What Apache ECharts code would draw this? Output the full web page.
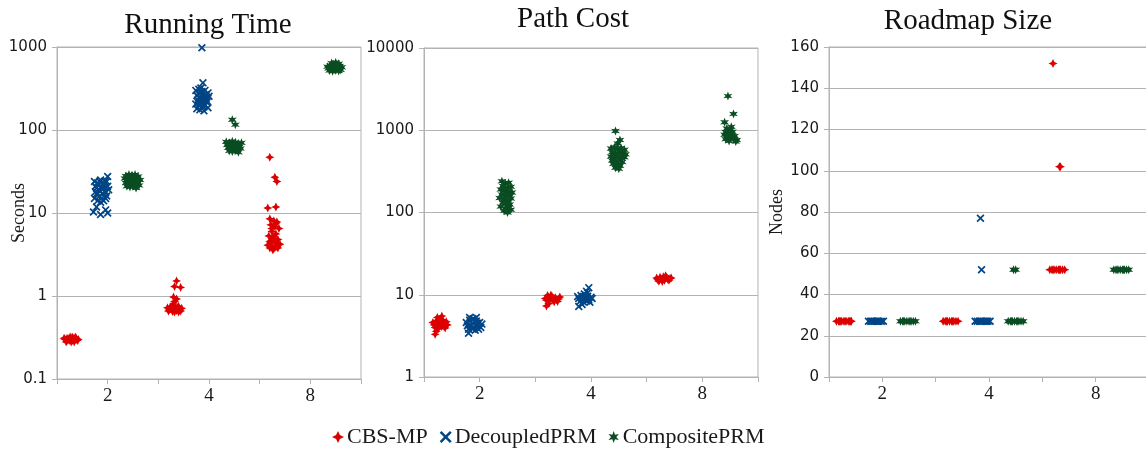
<!DOCTYPE html>
<html>
<head>
<meta charset="utf-8">
<script src="https://cdn.jsdelivr.net/npm/echarts@6/dist/echarts.min.js"></script>
<style>html,body{margin:0;padding:0;background:#fff}#c{width:1146px;height:449px}</style>
</head>
<body>
<div id="c"></div>
<script>
// ---- data ----
const xTickLabels = ['2', '4', '8'];
const seriesNames = ['CBS-MP', 'DecoupledPRM', 'CompositePRM'];
const panelTitles = ['Running Time', 'Path Cost', 'Roadmap Size'];

// Running Time (seconds) : [x position, value]
const timeCBS = [
  [0.58,0.30],[0.60,0.31],[0.62,0.29],[0.64,0.30],[0.66,0.31],[0.68,0.30],[0.70,0.29],[0.59,0.28],
  [0.63,0.32],[0.67,0.28],[0.61,0.30],[0.65,0.29],[0.69,0.31],[0.62,0.31],[0.66,0.30],[0.60,0.29],
  [0.64,0.28],[0.68,0.32],[0.63,0.30],[0.71,0.30],[0.57,0.31],[0.65,0.32],
  [1.59,0.72],[1.61,0.69],[1.63,0.71],[1.65,0.68],[1.67,0.70],[1.69,0.72],[1.71,0.69],[1.73,0.71],
  [1.60,0.66],[1.62,0.74],[1.64,0.65],[1.66,0.73],[1.68,0.67],[1.70,0.75],[1.72,0.66],[1.62,0.70],
  [1.66,0.64],[1.64,0.77],[1.68,0.70],[1.70,0.64],[1.65,0.80],[1.66,0.86],[1.68,0.92],[1.65,0.97],
  [1.66,1.30],[1.72,1.27],[1.68,1.52],
  [2.60,47],[2.65,27],[2.67,24],[2.58,11.5],[2.66,11.8],
  [2.60,8.5],[2.64,8.0],[2.67,7.8],[2.61,7.2],[2.65,6.9],[2.69,6.5],[2.62,6.0],[2.66,5.6],
  [2.59,5.3],[2.63,5.0],[2.68,4.8],[2.61,4.6],[2.65,4.4],[2.70,4.2],[2.58,4.1],[2.62,4.0],
  [2.66,3.9],[2.60,3.8],[2.64,3.7],[2.68,3.8],[2.63,3.6],[2.67,4.3],[2.60,4.5],[2.64,5.2],
  [2.62,6.5],[2.66,7.4]
];
const timeDec = [
  [0.87,24],[0.90,23],[0.93,25],[0.96,22],[0.99,24],[0.88,21],[0.91,19],[0.94,20],
  [0.97,18],[1.00,21],[0.89,17],[0.92,16],[0.95,17],[0.98,15],[0.87,15],[0.90,14],
  [0.93,13.5],[0.96,14],[0.99,16],[0.91,22],[0.95,19],[0.97,24],[1.01,19],[0.88,18],
  [0.92,24],[0.96,20],[0.90,17],[0.94,15],[0.98,18],[0.89,20],
  [1.00,27.5],[0.89,11.8],[0.98,10.9],[0.93,9.6],[0.86,10.3],[1.00,10.0],
  [1.93,980],[1.94,370],
  [1.87,300],[1.90,310],[1.93,290],[1.96,300],[1.99,280],[1.88,260],[1.91,250],[1.94,270],
  [1.97,240],[2.00,255],[1.89,230],[1.92,220],[1.95,235],[1.98,215],[1.87,205],[1.90,200],
  [1.93,190],[1.96,200],[1.99,185],[1.91,175],[1.95,170],[1.88,180],[1.97,265],[1.92,320],
  [1.94,210],[1.90,280],[1.96,250],[1.92,260],[1.98,225],[1.89,215],[1.95,190]
];
const timeComp = [
  [1.18,28],[1.21,29],[1.24,28.5],[1.27,29],[1.30,27.5],[1.17,26],[1.20,25],[1.23,26.5],
  [1.26,25.5],[1.29,26],[1.32,25],[1.18,23],[1.21,22.5],[1.24,23.5],[1.27,22],[1.30,23],
  [1.19,21],[1.22,20.5],[1.25,21],[1.28,20],[1.31,21.5],[1.24,24.5],
  [2.23,133],[2.26,116],
  [2.17,72],[2.20,70],[2.23,73],[2.26,71],[2.29,69],[2.32,70],[2.18,66],[2.21,64],
  [2.24,67],[2.27,65],[2.30,63],[2.19,61],[2.22,60],[2.25,62],[2.28,59],[2.31,60],
  [2.20,56],[2.23,55],[2.26,57],[2.29,54],[2.24,64],[2.27,58],
  [3.17,580],[3.20,600],[3.23,620],[3.26,610],[3.29,590],[3.31,570],[3.18,550],[3.21,560],
  [3.24,540],[3.27,555],[3.30,530],[3.19,520],[3.22,510],[3.25,525],[3.28,515],[3.21,640],
  [3.25,650],[3.28,630],[3.23,570],[3.26,580]
];

// Path Cost
const costCBS = [
  [0.58,4.6],[0.61,4.8],[0.64,5.0],[0.67,4.9],[0.70,4.7],[0.59,4.3],[0.62,4.4],[0.65,4.2],
  [0.68,4.5],[0.71,4.3],[0.60,4.0],[0.63,3.9],[0.66,4.1],[0.69,3.95],[0.62,5.3],[0.66,5.5],
  [0.61,3.6],[0.60,3.3],[0.64,4.6],[0.68,4.1],
  [1.59,9.0],[1.62,9.3],[1.65,9.5],[1.68,9.2],[1.71,8.9],[1.60,8.6],[1.63,8.8],[1.66,8.5],
  [1.69,8.7],[1.72,9.4],[1.61,9.8],[1.64,9.9],[1.67,8.2],[1.62,7.8],[1.60,7.3],[1.70,8.3],
  [1.65,9.0],
  [2.59,16],[2.62,16.3],[2.65,16.5],[2.68,16.2],[2.71,15.8],[2.60,15.2],[2.63,15.5],[2.66,15.0],
  [2.69,15.4],[2.72,16.0],[2.61,14.6],[2.64,14.5],[2.67,17],[2.70,15],[2.65,15.8]
];
const costDec = [
  [0.88,4.6],[0.91,4.9],[0.94,5.1],[0.97,4.8],[1.00,4.6],[1.02,4.4],[0.89,4.2],[0.92,4.3],
  [0.95,4.0],[0.98,4.2],[1.01,4.0],[0.90,3.8],[0.93,3.9],[0.96,3.7],[0.99,3.8],[0.91,5.3],
  [0.97,5.3],[0.90,3.4],[0.94,4.5],[0.98,4.5],
  [1.88,9.5],[1.91,9.8],[1.94,10.2],[1.97,9.6],[2.00,9.3],[1.89,9.0],[1.92,8.8],[1.95,9.1],
  [1.98,8.7],[2.01,9.0],[1.90,8.3],[1.93,8.2],[1.96,8.4],[1.99,8.1],[1.92,7.6],[1.89,7.2],
  [1.96,11.0],[1.98,12.2],[1.94,9.4],[1.97,10.5]
];
const costComp = [
  [1.20,240],[1.23,225],[1.26,230],[1.21,210],[1.25,200],[1.28,205],[1.19,190],[1.22,185],
  [1.26,180],[1.29,175],[1.20,165],[1.24,160],[1.27,158],[1.18,150],[1.22,145],[1.25,140],
  [1.28,148],[1.21,132],[1.24,128],[1.27,125],[1.19,118],[1.23,112],[1.26,115],[1.22,105],
  [1.25,100],[1.28,108],[1.24,170],[1.22,195],
  [2.22,980],[2.26,760],[2.24,690],
  [2.18,600],[2.21,620],[2.24,590],[2.27,610],[2.30,580],[2.19,540],[2.22,520],[2.25,550],
  [2.28,530],[2.31,510],[2.18,480],[2.21,470],[2.24,490],[2.27,460],[2.30,470],[2.19,430],
  [2.22,420],[2.25,440],[2.28,410],[2.20,390],[2.23,380],[2.26,370],[2.22,350],[2.25,340],
  [2.24,500],
  [3.23,2600],[3.28,1580],[3.20,1250],
  [3.22,1050],[3.25,1000],[3.21,950],[3.24,920],[3.27,960],[3.20,880],[3.23,860],[3.26,900],
  [3.29,850],[3.22,820],[3.25,800],[3.28,780],[3.31,760],[3.21,780],[3.24,740],[3.30,730],
  [3.26,1100]
];

// Roadmap Size (nodes)
const sizeCBS = [
  [0.57,27],[0.59,27],[0.61,27],[0.62,27],[0.64,27],[0.66,27],[0.68,27],[0.70,27],[0.71,27],
  [0.60,27],[0.65,27],[0.69,27],
  [1.57,27],[1.59,27],[1.61,27],[1.63,27],[1.65,27],[1.67,27],[1.69,27],[1.71,27],[1.60,27],[1.66,27],
  [2.57,52],[2.59,52],[2.61,52],[2.63,52],[2.65,52],[2.67,52],[2.69,52],[2.71,52],[2.60,52],[2.66,52],
  [2.60,152],[2.66,102],[2.67,102]
];
const sizeDec = [
  [0.87,27],[0.89,27],[0.91,27],[0.93,27],[0.95,27],[0.97,27],[0.99,27],[1.01,27],[0.90,27],[0.96,27],
  [1.87,27],[1.89,27],[1.91,27],[1.93,27],[1.95,27],[1.97,27],[1.99,27],[2.01,27],[1.92,27],[1.98,27],
  [1.92,77],[1.93,52]
];
const sizeComp = [
  [1.17,27],[1.19,27],[1.21,27],[1.23,27],[1.25,27],[1.27,27],[1.29,27],[1.31,27],[1.20,27],[1.26,27],
  [2.18,27],[2.20,27],[2.22,27],[2.24,27],[2.26,27],[2.28,27],[2.30,27],[2.32,27],[2.21,27],[2.27,27],
  [2.23,52],[2.25,52],
  [3.17,52],[3.19,52],[3.21,52],[3.23,52],[3.25,52],[3.27,52],[3.29,52],[3.31,52],[3.20,52],[3.26,52]
];

// ---- styling ----
const colors = ['#dc0000', '#004586', '#0b4d22'];
const symbols = [
  'path://M0,-10 L3.2,-3.2 L10,0 L3.2,3.2 L0,10 L-3.2,3.2 L-10,0 L-3.2,-3.2 Z',
  'path://M-10,-7 L-7,-10 L0,-3 L7,-10 L10,-7 L3,0 L10,7 L7,10 L0,3 L-7,10 L-10,7 L-3,0 Z',
  'path://M0,-10 L2.2,-3.8 L8.66,-5 L4.4,0 L8.66,5 L2.2,3.8 L0,10 L-2.2,3.8 L-8.66,5 L-4.4,0 L-8.66,-5 L-2.2,-3.8 Z'
];
const symbolSizes = [9, 8, 9];
const gridColor = '#b3b3b3';
const serif = 'Liberation Serif';

const chart = echarts.init(document.getElementById('c'), null, {renderer: 'canvas'});

const grids = [
  {left: 57, top: 47, width: 304, height: 332},
  {left: 424, top: 48, width: 334, height: 329},
  {left: 829, top: 47, width: 320, height: 330}
].map(g => Object.assign({show: true, borderColor: gridColor, borderWidth: 1,
  containLabel: false, outerBoundsMode: 'none'}, g));

const xAxes = [0, 1, 2].map(i => ({
  type: 'value', gridIndex: i, min: 0.5, max: 3.5, interval: 0.5,
  splitLine: {show: false},
  axisLine: {show: true, onZero: false, lineStyle: {color: gridColor}},
  axisTick: {show: true, length: 5, lineStyle: {color: gridColor}},
  axisLabel: {
    margin: 8, color: '#1a1a1a', fontFamily: serif, fontSize: 19,
    formatter: v => (Math.abs(v - Math.round(v)) < 1e-6 && v >= 1 && v <= 3) ? xTickLabels[Math.round(v) - 1] : ''
  }
}));

const yCommon = {
  splitLine: {show: true, lineStyle: {color: gridColor}},
  axisLine: {show: true, lineStyle: {color: gridColor}},
  axisTick: {show: true, length: 5, lineStyle: {color: gridColor}},
  nameLocation: 'middle',
  nameMoveOverlap: false,
  nameTextStyle: {fontFamily: serif, fontSize: 18, color: '#1a1a1a'}
};
const yLabel = {margin: 10, color: '#1a1a1a', fontFamily: 'DejaVu Sans', fontSize: 15,
  formatter: v => String(+(+v).toPrecision(6))};

const yAxes = [
  Object.assign({}, yCommon, {type: 'log', logBase: 10, gridIndex: 0, min: 0.1, max: 1000,
    name: 'Seconds', nameGap: 29, axisLabel: yLabel, minorSplitLine: {show: false}}),
  Object.assign({}, yCommon, {type: 'log', logBase: 10, gridIndex: 1, min: 1, max: 10000,
    axisLabel: yLabel}),
  Object.assign({}, yCommon, {type: 'value', gridIndex: 2, min: 0, max: 160, interval: 20,
    name: 'Nodes', nameGap: 43, axisLabel: yLabel})
];

const panels = [[timeCBS, timeDec, timeComp], [costCBS, costDec, costComp], [sizeCBS, sizeDec, sizeComp]];
const series = [];
panels.forEach((p, gi) => {
  p.forEach((data, si) => {
    series.push({
      type: 'scatter', name: seriesNames[si], xAxisIndex: gi, yAxisIndex: gi,
      data: data, symbol: symbols[si], symbolSize: symbolSizes[si],
      itemStyle: {color: colors[si], opacity: 1},
      emphasis: {disabled: true}
    });
  });
});

const titleCenters = [208, 573, 968];
const titleTops = [11, 5, 7];
const titles = panelTitles.map((t, i) => ({
  text: t, left: titleCenters[i], top: titleTops[i], textAlign: 'center', padding: 0,
  textStyle: {fontFamily: serif, fontSize: 29, fontWeight: 'normal', color: '#111'}
}));

chart.setOption({
  animation: false,
  backgroundColor: '#fff',
  title: titles,
  grid: grids,
  xAxis: xAxes,
  yAxis: yAxes,
  legend: {
    left: 327, top: 421, itemWidth: 12, itemHeight: 12, itemGap: 12,
    textStyle: {fontFamily: serif, fontSize: 22, color: '#1a1a1a', padding: [0, 0, 0, -2]},
    data: seriesNames.map((n, i) => ({name: n, icon: symbols[i], itemStyle: {color: colors[i]}}))
  },
  series: series
});
</script>
</body>
</html>
